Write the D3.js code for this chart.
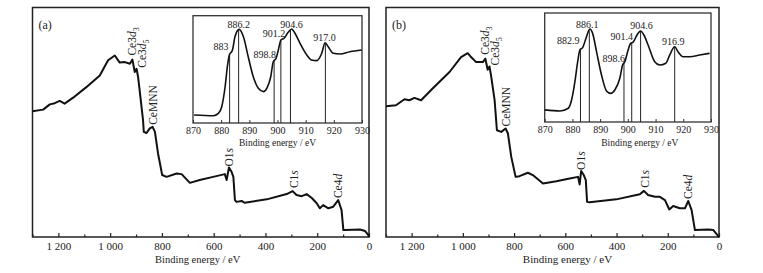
<!DOCTYPE html>
<html lang="en">
<head>
<meta charset="utf-8">
<title>XPS survey</title>
<script src="https://d3js.org/d3.v7.min.js"></script>
<style>
  body { margin: 0; background: #fff; }
  text { font-family: "Liberation Serif", "Times New Roman", serif; fill: #222; }
</style>
</head>
<body>
<svg width="763" height="273"></svg>
<script>
// survey spectra (binding energy in eV, intensity in arbitrary units)
var beA = [1300,1259,1233,1214,1195,1176,1143,1092,1040,1008,982,963,943,924,914,905,898,892,886,873,870,860,847,836,827,815,799,782,743,724,692,654,602,557,550,541,531,524,518,512,492,480,395,318,295,280,260,241,222,202,190,177,157,138,119,106,99,93,35,15,3,0];
var intA = [54.8,55.5,57.8,58.3,59.3,58.1,60.7,65.3,70.4,77.0,79.1,76.0,76.2,75.5,77.3,71.9,73.3,69.7,63.9,50.9,45.8,45.3,47.3,48.0,45.8,36.4,27.0,26.2,27.7,27.4,23.6,24.8,26.2,27.4,24.8,30.3,28.4,26.2,16.1,15.3,15.7,14.9,16.4,18.7,20.0,18.3,17.8,18.7,17.1,14.7,12.5,13.9,12.5,13.2,16.1,11.7,3.0,3.0,3.3,2.6,0.9,0];
var beB = [1300,1261,1228,1209,1189,1163,1118,1052,1007,981,968,948,922,912,903,896,890,876,867,850,833,824,811,794,779,746,727,687,635,583,550,544,538,528,520,515,505,401,309,293,277,250,231,211,194,179,153,133,120,107,94,42,22,3,0];
var intB = [57.0,57.4,60.0,59.6,60.6,59.6,64.7,71.9,78.4,80.1,78.4,76.2,76.2,77.7,72.9,74.3,70.4,59.6,46.5,45.8,47.3,45.1,34.9,26.2,26.5,28.0,27.0,23.3,24.3,25.5,26.2,22.9,28.8,27.0,24.8,15.3,15.1,16.4,18.6,20.1,18.3,17.5,17.5,16.1,12.0,13.5,12.5,12.5,15.7,11.7,3.0,3.3,3.0,0.4,0];

// Ce 3d high resolution spectra (insets)
var ceBeA = [870.4,877.2,879,880.2,881.4,882.2,882.9,884,884.9,886.4,887.9,889.6,891.4,893.2,895,896.2,897.6,898.5,899.5,900.3,901.2,902.3,903.8,905,906.2,908,910.4,912.1,913.9,915.7,916.9,918,919.8,922.2,925.7,929.9];
var ceIntA = [7.5,6.8,9.0,15.2,33.8,52.5,63.4,68.0,80.4,87.3,80.4,61.8,43.1,32.3,29.2,32.3,43.1,57.1,60.3,68.0,77.4,78.9,84.5,87.6,83.6,74.3,63.4,58.7,58.1,65.0,74.8,71.1,65.0,64.3,66.4,68.0];
var ceBeB = [870.1,875.5,878.5,879.7,880.9,881.9,882.7,883.7,884.9,886.3,887.3,888.7,890.5,892.3,893.8,895.3,897.1,898.1,898.9,900.1,901,901.9,903.3,904.6,905.8,907.3,909.7,911.5,913.7,915.1,916.9,918.1,919.9,922.3,925.9,929.5];
var ceIntB = [11.1,10.1,12.6,20.2,37.0,55.3,66.1,68.2,76.8,85.3,81.3,64.5,43.1,28.5,26.3,29.4,40.1,52.3,55.3,66.1,72.2,73.2,79.8,83.5,79.8,70.7,55.3,52.3,53.9,61.4,69.1,64.5,59.9,59.9,61.4,63.0];

// peak positions marked in the insets
var peaksA = [883, 886.2, 898.8, 901.2, 904.6, 917.0];
var peakTextA = ["883", "886.2", "898.8", "901.2", "904.6", "917.0"];
var peaksB = [882.9, 886.1, 898.6, 901.4, 904.6, 916.9];
var peakTextB = ["882.9", "886.1", "898.6", "901.4", "904.6", "916.9"];

// survey annotations
var annotName = ["Ce3d3", "Ce3d5", "CeMNN", "O1s", "C1s", "Ce4d"];
var annotBeA = [914, 898, 836, 541, 295, 119];
var annotBeB = [912, 896, 833, 538, 293, 120];

var mainTicks = [1200, 1000, 800, 600, 400, 200, 0];
var mainTickText = ["1 200", "1 000", "800", "600", "400", "200", "0"];
var minorTicks = [1300, 1100, 900, 700, 500, 300, 100];
var insetTicks = [870, 880, 890, 900, 910, 920, 930];

// ---- layout ----
var panels = [
  { tag: "(a)", be: beA, val: intA, ceBe: ceBeA, ceVal: ceIntA, peaks: peaksA, peakText: peakTextA, annBe: annotBeA,
    box: { l: 32.5, r: 369, t: 7.5, b: 237 }, inset: { l: 193, r: 362, t: 15.7, b: 123 },
    title: { dx: -3, size: 10.5 }, ititle: { dx: 0 },
    peakOff: [[-1, -5, "end"], [0, -2, "middle"], [2, -3, "end"], [-7, -3, "middle"], [1, -2, "middle"], [-1, -2, "middle"]] },
  { tag: "(b)", be: beB, val: intB, ceBe: ceBeB, ceVal: ceIntB, peaks: peaksB, peakText: peakTextB, annBe: annotBeB,
    box: { l: 386, r: 719, t: 7.5, b: 237 }, inset: { l: 544.7, r: 711, t: 13, b: 122 },
    title: { dx: 15, size: 11 }, ititle: { dx: 12 },
    peakOff: [[-1, -5, "end"], [-2, -2, "middle"], [1, -1, "end"], [-10, -3, "middle"], [1, -2, "middle"], [-1.5, -2, "middle"]] }
];
// rotated label offsets: [dx, gap above curve]
var annOff = [[0, 4], [5, 1], [0, 2], [0, 1], [1, 3], [0, 2]];

var svg = d3.select("svg");

function interp(xs, ys, x) {
  var pts = xs.map(function(d, i) { return [d, ys[i]]; }).sort(function(a, b) { return a[0] - b[0]; });
  var i = d3.bisector(function(d) { return d[0]; }).left(pts, x);
  if (i <= 0) return pts[0][1];
  if (i >= pts.length) return pts[pts.length - 1][1];
  var a = pts[i - 1], b = pts[i];
  return a[1] + (b[1] - a[1]) * (x - a[0]) / (b[0] - a[0]);
}

panels.forEach(function(p) {
  var g = svg.append("g");
  var bx = p.box;
  var x = d3.scaleLinear().domain([1300, 0]).range([bx.l, bx.r]);
  var y = d3.scaleLinear().domain([0, 100]).range([bx.b, bx.t]);

  // frame
  g.append("rect").attr("x", bx.l).attr("y", bx.t).attr("width", bx.r - bx.l).attr("height", bx.b - bx.t)
    .attr("fill", "none").attr("stroke", "#222").attr("stroke-width", 1.5);

  // axis ticks
  var ax = g.append("g").attr("transform", "translate(0," + bx.b + ")")
    .call(d3.axisBottom(x).tickValues(mainTicks).tickSize(-4).tickSizeOuter(0).tickPadding(5)
      .tickFormat(function(d, i) { return mainTickText[i]; }));
  ax.select(".domain").remove();
  ax.selectAll("line").attr("stroke", "#222").attr("stroke-width", 1.2);
  ax.selectAll("text").attr("font-size", 11).attr("font-family", "Liberation Serif").attr("fill", "#222");
  var mx = g.append("g").attr("transform", "translate(0," + bx.b + ")")
    .call(d3.axisBottom(x).tickValues(minorTicks).tickSize(-2.5).tickSizeOuter(0).tickFormat(""));
  mx.select(".domain").remove();
  mx.selectAll("line").attr("stroke", "#222").attr("stroke-width", 1.2);

  g.append("text").attr("x", (bx.l + bx.r) / 2 + p.title.dx).attr("y", 263).attr("text-anchor", "middle")
    .attr("font-size", p.title.size).text("Binding energy / eV");
  g.append("text").attr("x", bx.l + 6).attr("y", 29).attr("font-size", 12).text(p.tag);

  // survey line
  var line = d3.line().x(function(d, i) { return x(p.be[i]); }).y(function(d) { return y(d); });
  g.append("path").attr("d", line(p.val)).attr("fill", "none").attr("stroke", "#111")
    .attr("stroke-width", 2).attr("stroke-linejoin", "round");

  // rotated peak labels
  p.annBe.forEach(function(be, i) {
    var px = x(be) + annOff[i][0];
    var py = y(interp(p.be, p.val, be)) - annOff[i][1];
    var t = g.append("text").attr("transform", "translate(" + px + "," + py + ") rotate(-90)")
      .attr("dy", "0.35em").attr("font-size", 11.5);
    var nm = annotName[i];
    if (nm === "Ce3d3" || nm === "Ce3d5") {
      t.append("tspan").text("Ce3");
      t.append("tspan").attr("font-style", "italic").text("d");
      t.append("tspan").attr("font-size", 8).attr("dy", 3).text(nm.slice(4));
    } else if (nm === "O1s" || nm === "C1s") {
      t.append("tspan").text(nm.slice(0, 2));
      t.append("tspan").attr("font-style", "italic").text("s");
    } else if (nm === "Ce4d") {
      t.append("tspan").text("Ce4");
      t.append("tspan").attr("font-style", "italic").text("d");
    } else {
      t.text(nm);
    }
  });

  // inset
  var ib = p.inset;
  var xi = d3.scaleLinear().domain([870, 930]).range([ib.l, ib.r]);
  var yi = d3.scaleLinear().domain([0, 100]).range([ib.b, ib.t]);
  g.append("rect").attr("x", ib.l).attr("y", ib.t).attr("width", ib.r - ib.l).attr("height", ib.b - ib.t)
    .attr("fill", "#fff").attr("stroke", "#333").attr("stroke-width", 1.3);
  var ia = g.append("g").attr("transform", "translate(0," + ib.b + ")")
    .call(d3.axisBottom(xi).tickValues(insetTicks).tickSize(-3).tickSizeOuter(0).tickPadding(4));
  ia.select(".domain").remove();
  ia.selectAll("line").attr("stroke", "#333");
  ia.selectAll("text").attr("font-size", 10).attr("font-family", "Liberation Serif").attr("fill", "#222");
  g.append("text").attr("x", (ib.l + ib.r) / 2 + p.ititle.dx).attr("y", 146).attr("text-anchor", "middle")
    .attr("font-size", 9.5).text("Binding energy / eV");

  // reference lines at peak positions
  p.peaks.forEach(function(be, i) {
    var top = yi(interp(p.ceBe, p.ceVal, be));
    g.append("line").attr("x1", xi(be)).attr("x2", xi(be)).attr("y1", top).attr("y2", ib.b)
      .attr("stroke", "#222").attr("stroke-width", 1);
    var o = p.peakOff[i];
    g.append("text").attr("x", xi(be) + o[0]).attr("y", top + o[1]).attr("text-anchor", o[2])
      .attr("font-size", 10).text(p.peakText[i]);
  });

  var iline = d3.line().x(function(d, i) { return xi(p.ceBe[i]); }).y(function(d) { return yi(d); })
    .curve(d3.curveMonotoneX);
  g.append("path").attr("d", iline(p.ceVal)).attr("fill", "none").attr("stroke", "#111")
    .attr("stroke-width", 1.6);
});
</script>
</body>
</html>
